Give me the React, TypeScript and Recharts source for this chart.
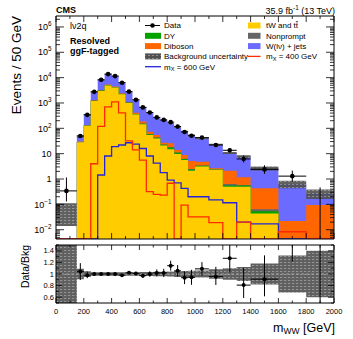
import React from "react";
import { Area, ComposedChart, ErrorBar, Line, ReferenceLine, Scatter, XAxis, YAxis } from "recharts";

const WIDTH = 353;
const HEIGHT = 339;
const PLOT_L = 56;
const PLOT_R = 334;
const MAIN_T = 16;
const MAIN_B = 239;
const RATIO_T = 245;
const RATIO_B = 303;
const Y_MIN = 0.0043;
const Y_MAX = 2.7e6;
const R_MIN = 0.5;
const R_MAX = 1.5;
const AXIS_W = 40;
const AXIS_H = 20;
const FONT = "'Liberation Sans', Arial, Helvetica, sans-serif";

const C_TT = "#ffcc00";
const C_DY = "#00a300";
const C_DIB = "#ff6600";
const C_NP = "#666666";
const C_W = "#6b6bff";
const C_S400 = "#ff2a00";
const C_S600 = "#2424d8";

// variable binning, GeV
const binEdges = [0, 150, 200, 250, 300, 350, 400, 450, 500, 550, 600, 650, 700, 750, 800, 850, 900, 950, 1000, 1100, 1200, 1300, 1400, 1600, 1800, 2000];

// everything below is events / 50 GeV
const dataYield = [0.34, 50, 340, 2750, 8200, 13800, 11500, 6300, 2800, 1330, 670, 420, 270, 215, 175, 117, 72, 51, 43, 22, 13.6, 6.2, 2.4, 1.3, 0];
const dataErrLo = [0.21, 7, 18, 52, 90, 117, 107, 79, 53, 36, 26, 20, 16, 15, 13, 11, 8.5, 7, 4.6, 3.3, 2.6, 1.7, 0.78, 0.52, 0];
const dataErrHi = [0.81, 7, 18, 52, 90, 117, 107, 79, 53, 36, 26, 20, 16, 15, 13, 11, 8.5, 7, 4.6, 3.9, 3.1, 2.3, 1.08, 0.85, 0.46];

const ttbar = [0, 28, 125, 1200, 3000, 4900, 4100, 2200, 1000, 350, 145, 55, 40, 21, 15, 9.7, 5.6, 2.1, 3.1, 2.3, 0.5, 0.5, 0.044, 0, 0];
const dy = [0, 0.8, 4, 35, 90, 140, 120, 70, 35, 14, 7, 3, 2.5, 1.3, 2.5, 1.2, 0.5, 0.3, 0.2, 0.1, 0.05, 0.05, 0.01, 0, 0];
const nonprompt = [0, 0.3, 1, 10, 30, 50, 40, 25, 12, 5, 3, 1.5, 1, 0.6, 0.5, 0.3, 0.2, 0.1, 0.1, 0.05, 0.08, 0.03, 0.01, 0, 0];
const diboson = [0, 0.9, 5, 55, 130, 210, 190, 105, 53, 45, 30, 14.5, 11.5, 4.1, 8, 2.8, 2.6, 2.6, 1.4, 0.2, 1.47, 0.59, 0.37, 0.022, 0.094];
const wjets = [0, 18, 212, 1450, 4950, 8500, 7050, 4030, 1645, 903, 505, 346, 210, 184, 127, 97, 68, 49, 34.7, 20.4, 8.6, 6.5, 2.2, 0.62, 0.18];

// relative background uncertainty per bin
const bkgUnc = [0, 0.09, 0.05, 0.03, 0.03, 0.03, 0.03, 0.03, 0.03, 0.03, 0.035, 0.035, 0.04, 0.04, 0.045, 0.05, 0.05, 0.055, 0.06, 0.08, 0.1, 0.12, 0.18, 0.32, 0.4];
// first bin has no stacked prediction, only the uncertainty box
const emptyBinBand = [0.014, 0.11];

const signal400 = [0, 0, 0, 4, 120, 700, 1100, 410, 32, 14, 5.6, 0.32, 0.25, 0.23, 0.68, 0, 0.094, 0.032, 0.032, 0.019, 0, 0.02, 0, 0.0083, 0];
const signal600 = [0, 0, 0, 0, 1.44, 8.1, 19, 22, 27, 24, 16, 8.1, 4.2, 1.8, 0.91, 0.71, 0.43, 0.2, 0.2, 0.15, 0.116, 0.02, 0.017, 0, 0];

const xTicks = Array.from({ length: 21 }, (_, i) => i * 100);
const ratioTicks = Array.from({ length: 11 }, (_, i) => (5 + i) / 10);
const logTicks: number[] = [];
for (let e = -3; e <= 6; e++) {
  for (let m = 1; m <= 9; m++) {
    const v = Number((m * Math.pow(10, e)).toPrecision(3));
    if (v >= Y_MIN && v <= Y_MAX) logTicks.push(v);
  }
}

const pos = (v: number) => (v > 0 ? v : Y_MIN);

const bins = dataYield.map((d, i) => {
  const cTt = ttbar[i];
  const cDy = cTt + dy[i];
  const cNp = cDy + nonprompt[i];
  const cDib = cNp + diboson[i];
  const cTot = cDib + wjets[i];
  return { lo: binEdges[i], hi: binEdges[i + 1], d, cTt, cDy, cNp, cDib, cTot, u: bkgUnc[i] };
});

const stepRows = binEdges.map((edge, k) => {
  const i = Math.min(k, bins.length - 1);
  const b = bins[i];
  return {
    x: edge,
    cTt: pos(b.cTt),
    cDy: pos(b.cDy),
    cNp: pos(b.cNp),
    cDib: pos(b.cDib),
    cTot: pos(b.cTot),
    band: b.cTot > 0 ? [b.cTot * (1 - b.u), b.cTot * (1 + b.u)] : emptyBinBand,
    ratioBand: b.cTot > 0 ? [1 - b.u, 1 + b.u] : [0, 10],
    s400: pos(signal400[i]),
    s600: pos(signal600[i]),
  };
});

const dataPoints = bins.map((b, i) => ({
  x: (b.lo + b.hi) / 2,
  y: b.d > 0 ? b.d : Y_MIN,
  hide: b.d <= 0,
  ex: b.d > 0 ? (b.hi - b.lo) / 2 : 0,
  ey: [dataErrLo[i], dataErrHi[i]],
}));

// scatter marks are not clipped, so points outside the ratio range are pinned to the frame
const ratioPoints = bins
  .filter((b) => b.cTot > 0)
  .map((b) => {
    const i = bins.indexOf(b);
    const r = b.d / b.cTot;
    const lo = r - dataErrLo[i] / b.cTot;
    const hi = r + dataErrHi[i] / b.cTot;
    const inside = r >= R_MIN && r <= R_MAX;
    const y = Math.min(Math.max(r, R_MIN), R_MAX);
    const yLo = Math.min(Math.max(lo, R_MIN), R_MAX);
    const yHi = Math.min(Math.max(hi, R_MIN), R_MAX);
    return {
      x: (b.lo + b.hi) / 2,
      y,
      hide: !inside,
      ex: inside ? (b.hi - b.lo) / 2 : 0,
      ey: [y - yLo, yHi - y],
    };
  });

const LogYTick = (props: any) => {
  const y = props.y;
  const v = props.payload.value;
  const e = Math.log10(v);
  const n = Math.round(e);
  const major = Math.abs(e - n) < 1e-6;
  const len = major ? 8 : 4;
  return (
    <g>
      <line x1={PLOT_L} x2={PLOT_L + len} y1={y} y2={y} stroke="#000" strokeWidth={0.8} />
      <line x1={PLOT_R - len} x2={PLOT_R} y1={y} y2={y} stroke="#000" strokeWidth={0.8} />
      {major && (
        <text x={51.5} y={y + 3.2} textAnchor="end" fontSize={9} fontFamily={FONT} fill="#000">
          {n === 0 ? "1" : "10"}
          {n !== 0 && n !== 1 && (
            <tspan dy={-4} fontSize={6.3}>
              {n < 0 ? `\u2212${-n}` : `${n}`}
            </tspan>
          )}
        </text>
      )}
    </g>
  );
};

const RatioYTick = (props: any) => {
  const y = props.y;
  const v = props.payload.value;
  const k = Math.round(v * 10);
  const major = k % 2 === 0;
  const len = major ? 6 : 3;
  return (
    <g>
      <line x1={PLOT_L} x2={PLOT_L + len} y1={y} y2={y} stroke="#000" strokeWidth={0.8} />
      <line x1={PLOT_R - len} x2={PLOT_R} y1={y} y2={y} stroke="#000" strokeWidth={0.8} />
      {major && k > 5 && k < 15 && (
        <text x={54} y={y + 2.6} textAnchor="end" fontSize={7.5} fontFamily={FONT} fill="#000">
          {k === 10 ? "1" : v.toFixed(1)}
        </text>
      )}
    </g>
  );
};

const makeXTick = (top: number, bottom: number, majorLen: number, minorLen: number, labels: boolean) => (props: any) => {
  const x = props.x;
  const v = props.payload.value;
  const major = v % 200 === 0;
  const len = major ? majorLen : minorLen;
  return (
    <g>
      <line x1={x} x2={x} y1={bottom} y2={bottom - len} stroke="#000" strokeWidth={0.8} />
      <line x1={x} x2={x} y1={top} y2={top + len} stroke="#000" strokeWidth={0.8} />
      {labels && major && (
        <text x={x} y={bottom + 10.5} textAnchor="middle" fontSize={7.5} fontFamily={FONT} fill="#000">
          {v}
        </text>
      )}
    </g>
  );
};

const mainXTick = makeXTick(MAIN_T, MAIN_B, 6, 3, false);
const ratioXTick = makeXTick(RATIO_T, RATIO_B, 5, 2.5, true);

const Marker = (r: number) => (props: any) =>
  props.payload && props.payload.hide ? <g /> : <circle cx={props.cx} cy={props.cy} r={r} fill="#000" />;

const Legend2Col = () => {
  const rows = [25.5, 35.8, 46.1, 56.4, 66.7];
  const lx = 145;
  const rx = 248;
  const txt = { fontSize: 8, fontFamily: FONT, fill: "#000" } as const;
  const box = (x: number, y: number, w: number, fill: string) => <rect x={x} y={y - 3} width={w} height={6} fill={fill} />;
  return (
    <g>
      <line x1={lx} x2={lx + 15} y1={rows[0]} y2={rows[0]} stroke="#000" />
      <circle cx={lx + 7.5} cy={rows[0]} r={2.3} fill="#000" />
      <text x={164} y={rows[0] + 2.9} {...txt}>Data</text>
      {box(lx, rows[1], 16, C_DY)}
      <text x={164} y={rows[1] + 2.9} {...txt}>DY</text>
      {box(lx, rows[2], 16, C_DIB)}
      <text x={164} y={rows[2] + 2.9} {...txt}>Diboson</text>
      {box(lx, rows[3], 16, "url(#bkgHatch)")}
      <text x={164} y={rows[3] + 2.9} {...txt}>Background uncertainty</text>
      <line x1={lx} x2={lx + 16} y1={rows[4]} y2={rows[4]} stroke={C_S600} strokeWidth={1.3} />
      <text x={164} y={rows[4] + 2.9} {...txt}>
        m<tspan fontSize={5.6} dy={1.8}>X</tspan>
        <tspan dy={-1.8}> = 600 GeV</tspan>
      </text>

      {box(rx, rows[0], 12.5, C_TT)}
      <text x={266} y={rows[0] + 2.9} {...txt}>
        tW and t<tspan style={{ textDecoration: "overline" }}>t</tspan>
      </text>
      {box(rx, rows[1], 12.5, C_NP)}
      <text x={266} y={rows[1] + 2.9} {...txt}>Nonprompt</text>
      {box(rx, rows[2], 12.5, C_W)}
      <text x={266} y={rows[2] + 2.9} {...txt}>W(lν) + jets</text>
      <line x1={rx} x2={rx + 12.5} y1={rows[3]} y2={rows[3]} stroke={C_S400} strokeWidth={1.3} />
      <text x={266} y={rows[3] + 2.9} {...txt}>
        m<tspan fontSize={5.6} dy={1.8}>X</tspan>
        <tspan dy={-1.8}> = 400 GeV</tspan>
      </text>
    </g>
  );
};

const App: React.FC = () => {
  return (
    <div style={{ position: "absolute", left: 0, top: 0, width: WIDTH, height: HEIGHT, background: "#fff" }}>
      <svg width={0} height={0} style={{ position: "absolute" }}>
        <defs>
          <pattern id="bkgHatch" width="4" height="3" patternUnits="userSpaceOnUse">
            <rect width="4" height="3" fill="#4f4f4f" />
            <line x1="0" y1="1.5" x2="2.2" y2="1.5" stroke="#9a9a9a" strokeWidth="0.8" />
          </pattern>
        </defs>
      </svg>

      <div style={{ position: "absolute", left: 0, top: 0 }}>
        <ComposedChart
          width={WIDTH}
          height={MAIN_B + AXIS_H}
          data={stepRows}
          margin={{ top: MAIN_T, right: WIDTH - PLOT_R, bottom: 0, left: PLOT_L - AXIS_W }}
        >
          <Area type="stepAfter" dataKey="cTot" stroke="none" fill={C_W} fillOpacity={1} baseValue={Y_MIN} dot={false} activeDot={false} isAnimationActive={false} />
          <Area type="stepAfter" dataKey="cDib" stroke="none" fill={C_DIB} fillOpacity={1} baseValue={Y_MIN} dot={false} activeDot={false} isAnimationActive={false} />
          <Area type="stepAfter" dataKey="cNp" stroke="none" fill={C_NP} fillOpacity={1} baseValue={Y_MIN} dot={false} activeDot={false} isAnimationActive={false} />
          <Area type="stepAfter" dataKey="cDy" stroke="none" fill={C_DY} fillOpacity={1} baseValue={Y_MIN} dot={false} activeDot={false} isAnimationActive={false} />
          <Area type="stepAfter" dataKey="cTt" stroke="none" fill={C_TT} fillOpacity={1} baseValue={Y_MIN} dot={false} activeDot={false} isAnimationActive={false} />
          <Area type="stepAfter" dataKey="band" stroke="none" fill="url(#bkgHatch)" fillOpacity={0.9} dot={false} activeDot={false} isAnimationActive={false} />
          <Line type="stepAfter" dataKey="s600" stroke={C_S600} strokeWidth={1.3} dot={false} activeDot={false} isAnimationActive={false} />
          <Line type="stepAfter" dataKey="s400" stroke={C_S400} strokeWidth={1.3} dot={false} activeDot={false} isAnimationActive={false} />
          <Scatter data={dataPoints} dataKey="y" shape={Marker(2.3)} isAnimationActive={false}>
            <ErrorBar dataKey="ey" direction="y" width={0} stroke="#000" strokeWidth={1} />
            <ErrorBar dataKey="ex" direction="x" width={0} stroke="#000" strokeWidth={1} />
          </Scatter>
          <ReferenceLine y={Y_MAX} stroke="#000" strokeWidth={1} />
          <ReferenceLine x={2000} stroke="#000" strokeWidth={1} />
          <XAxis
            dataKey="x"
            type="number"
            domain={[0, 2000]}
            ticks={xTicks}
            interval={0}
            height={AXIS_H}
            tickSize={0}
            tickMargin={0}
            tickLine={false}
            allowDataOverflow
            axisLine={{ stroke: "#000" }}
            tick={mainXTick}
          />
          <YAxis
            type="number"
            scale="log"
            domain={[Y_MIN, Y_MAX]}
            ticks={logTicks}
            interval={0}
            width={AXIS_W}
            tickSize={0}
            tickMargin={0}
            tickLine={false}
            allowDataOverflow
            axisLine={{ stroke: "#000" }}
            tick={<LogYTick />}
          />
        </ComposedChart>
      </div>

      <div style={{ position: "absolute", left: 0, top: 0 }}>
        <ComposedChart
          width={WIDTH}
          height={HEIGHT}
          data={stepRows}
          margin={{ top: RATIO_T, right: WIDTH - PLOT_R, bottom: HEIGHT - RATIO_B - AXIS_H, left: PLOT_L - AXIS_W }}
        >
          <Area type="stepAfter" dataKey="ratioBand" stroke="none" fill="url(#bkgHatch)" fillOpacity={0.9} dot={false} activeDot={false} isAnimationActive={false} />
          <ReferenceLine y={1} stroke="#a0a0a0" strokeDasharray="3 2" strokeWidth={1} />
          <Scatter data={ratioPoints} dataKey="y" shape={Marker(2)} isAnimationActive={false}>
            <ErrorBar dataKey="ey" direction="y" width={0} stroke="#000" strokeWidth={1} />
            <ErrorBar dataKey="ex" direction="x" width={0} stroke="#000" strokeWidth={1} />
          </Scatter>
          <ReferenceLine y={R_MAX} stroke="#000" strokeWidth={1} />
          <ReferenceLine x={2000} stroke="#000" strokeWidth={1} />
          <XAxis
            dataKey="x"
            type="number"
            domain={[0, 2000]}
            ticks={xTicks}
            interval={0}
            height={AXIS_H}
            tickSize={0}
            tickMargin={0}
            tickLine={false}
            allowDataOverflow
            axisLine={{ stroke: "#000" }}
            tick={ratioXTick}
          />
          <YAxis
            type="number"
            domain={[R_MIN, R_MAX]}
            ticks={ratioTicks}
            interval={0}
            width={AXIS_W}
            tickSize={0}
            tickMargin={0}
            tickLine={false}
            allowDataOverflow
            axisLine={{ stroke: "#000" }}
            tick={<RatioYTick />}
          />
        </ComposedChart>
      </div>

      <svg width={WIDTH} height={HEIGHT} style={{ position: "absolute", left: 0, top: 0, pointerEvents: "none" }}>
        <text x={56} y={13} fontSize={9} fontWeight="bold" fontFamily={FONT}>CMS</text>
        <text x={335} y={13.5} fontSize={9} textAnchor="end" fontFamily={FONT}>
          35.9 fb<tspan fontSize={6.3} dy={-3.5}>-1</tspan>
          <tspan dy={3.5}> (13 TeV)</tspan>
        </text>
        <text x={70} y={28.5} fontSize={9} fontFamily={FONT}>lν2q</text>
        <text x={70} y={43.5} fontSize={9} fontWeight="bold" fontFamily={FONT}>Resolved</text>
        <text x={70} y={53.5} fontSize={9} fontWeight="bold" fontFamily={FONT}>ggF-tagged</text>
        <Legend2Col />
        <text transform="translate(20.5,16) rotate(-90)" textAnchor="end" fontSize={13.5} fontFamily={FONT}>
          Events / 50 GeV
        </text>
        <text transform="translate(29.2,266.5) rotate(-90)" textAnchor="middle" fontSize={10.5} fontFamily={FONT}>
          Data/Bkg
        </text>
        <text x={335} y={331.5} textAnchor="end" fontSize={12.5} fontFamily={FONT}>
          m<tspan fontSize={8.5} dy={2}>WW</tspan>
          <tspan dy={-2}> [GeV]</tspan>
        </text>
      </svg>
    </div>
  );
};

export default App;
